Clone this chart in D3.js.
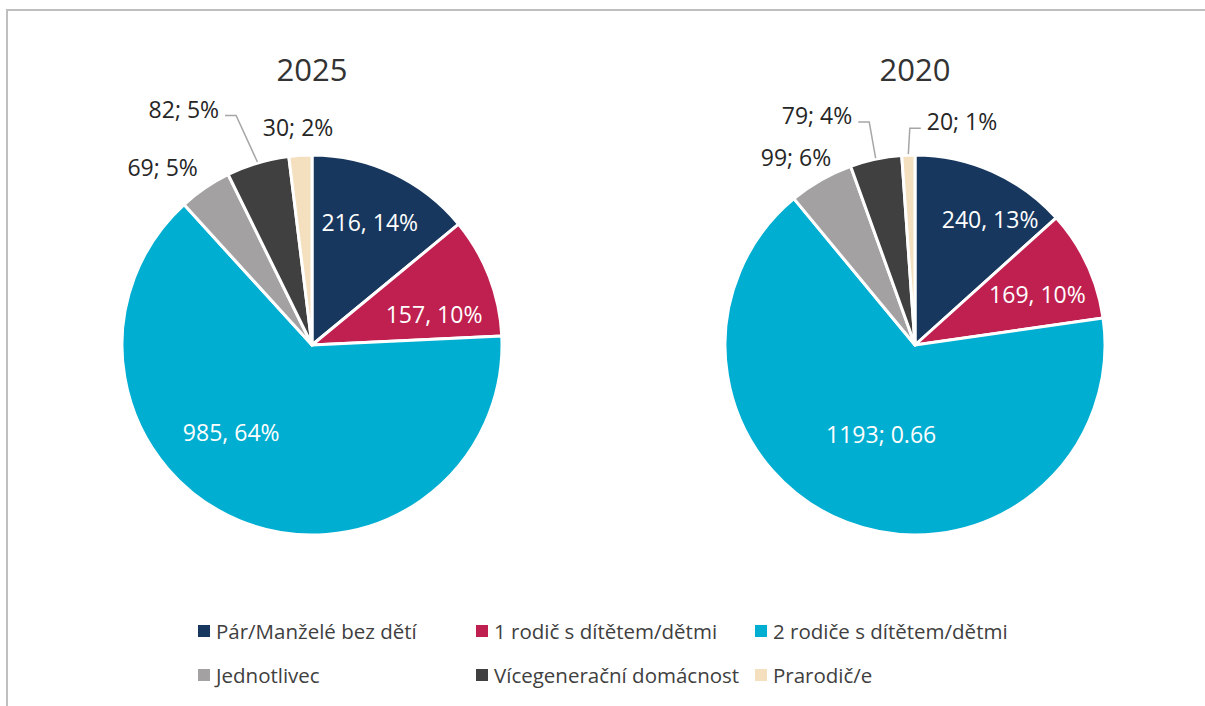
<html lang='cs'>
<head>
   <meta charset='UTF-8'>
   <script src='https://d3js.org/d3.v7.min.js'></script>
   <style>
      body{
         margin: 0;
         padding: 0;
         background-color: white;
         font-family: 'Open Sans', sans-serif;
      }
   </style>
</head>
<body>
   <div id='tavola'></div>
   <script>
   // data
   var years = ['2025', '2020'];
   var categories = ['Pár/Manželé bez dětí', '1 rodič s dítětem/dětmi', '2 rodiče s dítětem/dětmi',
                     'Jednotlivec', 'Vícegenerační domácnost', 'Prarodič/e'];
   var values2025 = [216, 157, 985, 69, 82, 30];
   var values2020 = [240, 169, 1193, 99, 79, 20];
   var labels2025 = ['216, 14%', '157, 10%', '985, 64%', '69; 5%', '82; 5%', '30; 2%'];
   var labels2020 = ['240, 13%', '169, 10%', '1193; 0.66', '99; 6%', '79; 4%', '20; 1%'];
   var colors = ['#17375e', '#c0204f', '#00aed1', '#a3a1a2', '#404040', '#f4dfbf'];

   // layout
   var W = 1205, H = 706, R = 190;
   var inside = [true, true, true, false, false, false];
   // label nudges (px) from the default spot, per year
   var nudge = {
      '2025': [[1,-3],[-2,17],[-30,-36],[-21,10],[-63,-18],[0,10]],
      '2020': [[21,-5],[2,5],[14,-35],[-6,10],[-51,-7],[55,4]]
   };

   var svg = d3.select('#tavola').append('svg')
      .attr('width', W)
      .attr('height', H);

   // frame
   svg.append('rect')
      .attr('x', 7).attr('y', 10)
      .attr('width', W + 20).attr('height', H + 20)
      .attr('fill', 'none')
      .attr('stroke', '#bfbfbf')
      .attr('stroke-width', 2);

   var xPos = d3.scalePoint().domain(years).range([312, 915]);
   var color = d3.scaleOrdinal().domain(categories).range(colors);

   var pie = d3.pie().sort(null).value(function(d){ return d.value; });
   var arc = d3.arc().innerRadius(0).outerRadius(R);
   var inArc = d3.arc().innerRadius(R * 0.7).outerRadius(R * 0.7);
   var outArc = d3.arc().innerRadius(R * 1.2).outerRadius(R * 1.2);
   var edgeArc = d3.arc().innerRadius(R + 1).outerRadius(R + 1);

   var seriesByYear = { '2025': values2025, '2020': values2020 };
   var labelsByYear = { '2025': labels2025, '2020': labels2020 };

   years.forEach(function(yr){
      var data = categories.map(function(c, i){
         return { cat: c, value: seriesByYear[yr][i], label: labelsByYear[yr][i], idx: i };
      });
      var g = svg.append('g')
         .attr('transform', 'translate(' + xPos(yr) + ',345)');

      svg.append('text')
         .attr('x', xPos(yr)).attr('y', 69)
         .attr('text-anchor', 'middle')
         .attr('dominant-baseline', 'central')
         .attr('font-size', '31px')
         .attr('fill', '#333')
         .text(yr);

      var arcs = pie(data);

      g.selectAll('path.slice')
         .data(arcs)
         .enter().append('path')
         .attr('class', 'slice')
         .attr('d', arc)
         .attr('fill', function(d){ return color(d.data.cat); })
         .attr('stroke', 'white')
         .attr('stroke-width', 3)
         .attr('stroke-linejoin', 'round');

      arcs.forEach(function(d){
         var i = d.data.idx;
         var base = inside[i] ? inArc.centroid(d) : outArc.centroid(d);
         var n = nudge[yr][i];
         var lx = base[0] + n[0], ly = base[1] + n[1];
         var t = g.append('text')
            .attr('x', lx).attr('y', ly)
            .attr('text-anchor', 'middle')
            .attr('dominant-baseline', 'central')
            .attr('font-size', '23px')
            .attr('fill', inside[i] ? 'white' : '#262626')
            .text(d.data.label);

         if (!inside[i] && Math.hypot(n[0], n[1]) > 40) {
            var a = edgeArc.centroid(d);
            var half = t.node().getComputedTextLength() / 2;
            var side = lx < a[0] ? 1 : -1;
            var edge = lx + side * half;
            var yy = ly + 7;
            g.append('polyline')
               .attr('points', [a, [edge + side * 17, yy], [edge + side * 6, yy]].map(function(p){ return p.join(','); }).join(' '))
               .attr('fill', 'none')
               .attr('stroke', '#a6a6a6')
               .attr('stroke-width', 1.5);
         }
      });
   });

   // legend
   var legend = svg.append('g');
   var colX = [198, 476, 755];
   var rowY = [631, 675];
   categories.forEach(function(c, i){
      var x = colX[i % 3], y = rowY[Math.floor(i / 3)];
      legend.append('rect')
         .attr('x', x).attr('y', y - 6)
         .attr('width', 12).attr('height', 12)
         .attr('fill', color(c));
      legend.append('text')
         .attr('x', x + 18).attr('y', y)
         .attr('dominant-baseline', 'central')
         .attr('font-size', '20.5px')
         .attr('fill', '#404040')
         .text(c);
   });
   </script>
</body>
</html>
